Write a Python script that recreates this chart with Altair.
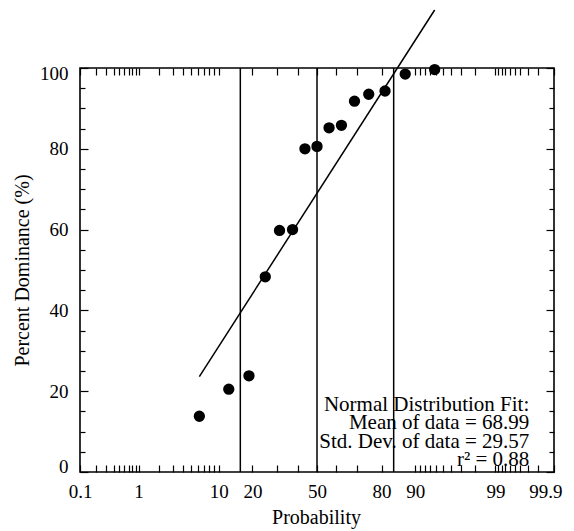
import altair as alt
import pandas as pd
from statistics import NormalDist

# ---------------- data ----------------
plot_prob = [6.25, 12.5, 18.75, 25, 31.25, 37.5, 43.75, 50,
             56.25, 62.5, 68.75, 75, 81.25, 87.5, 93.75]
dominance = [13.8, 20.5, 23.8, 48.3, 59.8, 60.0, 80.0, 80.6,
             85.2, 85.8, 91.8, 93.5, 94.3, 98.5, 99.6]
fit_mean = 68.99
fit_sd = 29.57
ref_prob = [15.87, 50, 84.13]          # mean - sd, mean, mean + sd
major_prob = [0.1, 1, 20, 50, 80, 90, 99]
major_labels = ["0.1", "1", "20", "50", "80", "90", "99"]
ten_prob = [10]
ten_labels = ["10"]
end_prob = [99.9]
end_labels = ["99.9"]
minor_prob = [0.2, 0.3, 0.4, 0.5, 0.6, 0.7, 0.8, 0.9,
              2, 3, 4, 5, 6, 7, 8, 9,
              30, 40, 60, 70,
              91, 92, 93, 94, 95, 96, 97, 98,
              99.1, 99.2, 99.3, 99.4, 99.5, 99.6, 99.7, 99.8]
y_major = [0, 20, 40, 60, 80, 100]
y_minor = [5, 10, 15, 25, 30, 35, 45, 50, 55, 65, 70, 75, 85, 90, 95]
annotation = ["Normal Distribution Fit:", "Mean of data = 68.99",
              "Std. Dev. of data = 29.57", "r\u00b2 = 0.88"]

# ---------------- probability (normal quantile) transform ----------------
nd = NormalDist()


def zq(p):
    return nd.inv_cdf(p / 100.0)


W, H = 474, 404
FONT = "Liberation Serif"

pts = pd.DataFrame({"z": [zq(p) for p in plot_prob], "v": dominance})
refs = pd.DataFrame({"z": [zq(p) for p in ref_prob]})
zf = [zq(plot_prob[0]), zq(plot_prob[-1])]
fit = pd.DataFrame({"z": zf, "v": [fit_mean + fit_sd * z for z in zf]})
anchor = pd.DataFrame({"z": [0.0], "v": [50.0]})

major_z = [round(zq(p), 5) for p in major_prob]
ten_z = [round(zq(p), 5) for p in ten_prob]
end_z = [round(zq(p), 5) for p in end_prob]
all_z = sorted(major_z + ten_z + end_z + [zq(p) for p in minor_prob])


def make_expr(zs, labs):
    e = ""
    for zv, lab in zip(zs, labs):
        e += f"abs(datum.value - ({zv:.5f})) < 0.001 ? '{lab}' : "
    return e + "''"


xs = alt.Scale(domain=[zq(0.1), zq(99.9)], nice=False, zero=False)
ys = alt.Scale(domain=[0, 100], nice=False, zero=False)


def tick_axis(orient, values, size, offset):
    return alt.Axis(orient=orient, values=values, offset=offset, labels=False,
                    domain=False, ticks=True, tickSize=size, tickColor="black",
                    tickWidth=1.2, grid=False, title=None)


def tick_layer(x_axis, y_axis):
    return alt.Chart(anchor).mark_point(opacity=0).encode(
        x=alt.X("z:Q", scale=xs, axis=x_axis),
        y=alt.Y("v:Q", scale=ys, axis=y_axis),
    )


def label_axis(values, labels, flush, title=None):
    kw = dict(orient="bottom", values=values, labelExpr=make_expr(values, labels),
              ticks=False, domain=False, grid=False, labelFlush=flush,
              labelOverlap=False, labelBound=False, labelPadding=10, labelFontSize=19,
              labelFont=FONT, labelColor="black", titleFont=FONT, titleFontSize=20,
              titleFontWeight="normal", titleColor="black",
              titleX=W / 2 - 1, titleY=45, titleBaseline="middle", title=title)
    if flush:
        kw["labelFlushOffset"] = 8
    return alt.Axis(**kw)


t1 = tick_layer(tick_axis("top", all_z, 7, -H), tick_axis("right", y_major, 8, -W))
t2 = tick_layer(tick_axis("bottom", all_z, 7, -H), tick_axis("left", y_major, 8, -W))
t3 = tick_layer(None, tick_axis("right", y_minor, 5, -W))
t4 = tick_layer(None, tick_axis("left", y_minor, 5, -W))

# x tick labels; the last one (99.9) sits flush toward the inside, as in the reference
t5 = tick_layer(label_axis(end_z, end_labels, True), None)
t6 = tick_layer(label_axis(major_z, major_labels, False, "Probability"), None)
t7 = tick_layer(label_axis(ten_z, ten_labels, False), None)

vlines = alt.Chart(refs).mark_rule(color="black", strokeWidth=1.5).encode(
    x=alt.X("z:Q", scale=xs, axis=None)
)

fit_line = alt.Chart(fit).mark_line(color="black", strokeWidth=1.5, clip=False).encode(
    x=alt.X("z:Q", scale=xs, axis=None),
    y=alt.Y("v:Q", scale=ys, axis=None),
)

points = alt.Chart(pts).mark_circle(size=128, color="black", opacity=1).encode(
    x=alt.X("z:Q", scale=xs, axis=None),
    y=alt.Y("v:Q", scale=ys,
            axis=alt.Axis(orient="left", values=y_major, ticks=False, domain=False,
                          grid=False, labelFlush=True, labelFlushOffset=4,
                          labelPadding=12, labelFontSize=19, labelFont=FONT,
                          labelColor="black",
                          title="Percent Dominance (%)", titleFont=FONT,
                          titleFontSize=20, titleFontWeight="normal",
                          titleColor="black", titleX=-58, titleY=H / 2,
                          titleBaseline="middle")),
)

note = alt.Chart(anchor).mark_text(
    text=annotation, align="right", baseline="middle", font=FONT, fontSize=21,
    lineHeight=18.3, color="black"
).encode(x=alt.value(449.3), y=alt.value(337))

chart = alt.layer(t1, t2, t3, t4, t5, t6, t7, vlines, fit_line, points, note).resolve_axis(
    x="independent", y="independent"
).properties(
    width=W, height=H,
    autosize=alt.AutoSizeParams(type="none"),
    padding={"left": 72, "top": 60, "right": 12, "bottom": 57},
    background="white",
).configure_view(stroke="black", strokeWidth=1.6)

chart.save("out.html", embed_options={"renderer": "svg", "actions": False})
